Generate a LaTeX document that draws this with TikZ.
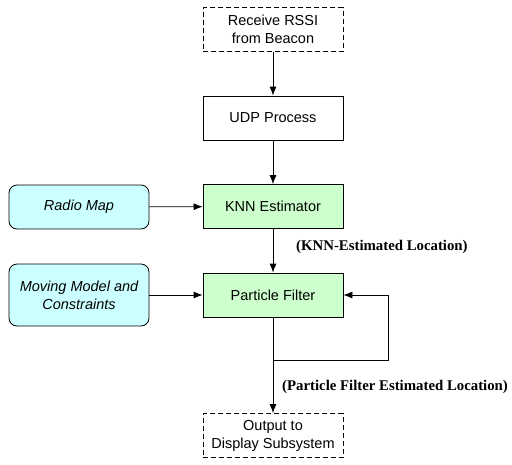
\documentclass[tikz,border=0pt]{standalone}
\usepackage{fontspec}
\setmainfont{Liberation Sans}
\newfontfamily\timesfont{Liberation Serif}
\usetikzlibrary{arrows.meta}
\definecolor{cyanfill}{HTML}{CCFFFF}
\definecolor{greenfill}{HTML}{CCFFCC}
\begin{document}
\begin{tikzpicture}[x=1pt,y=-1pt,
  box/.style={draw, line width=0.8pt, minimum width=140pt, minimum height=44pt, align=center, inner sep=2pt,
    font=\fontsize{14.5}{18}\selectfont},
  dashbox/.style={box, dash pattern=on 5pt off 3pt},
  greenbox/.style={box, fill=greenfill},
  cyanbox/.style={box, fill=cyanfill, rounded corners=8pt, font=\fontsize{14.5}{18}\selectfont\itshape},
  arr/.style={draw, line width=0.8pt, -{Latex[length=9pt,width=7pt]}},
  lab/.style={font=\fontsize{14.8}{18}\selectfont\timesfont\bfseries, anchor=west, inner sep=0pt}
]
\useasboundingbox (0,0) rectangle (512,464);
\node[dashbox] (recv) at (273,29.5) {Receive RSSI\\from Beacon};
\node[box] (udp) at (273,118) {UDP Process};
\node[greenbox] (knn) at (273,206.5) {KNN Estimator};
\node[cyanbox] (radio) at (79,207) {Radio Map};
\node[greenbox] (pf) at (273,295) {Particle Filter};
\node[cyanbox, minimum height=62pt] (move) at (79,295) {Moving Model and\\Constraints};
\node[dashbox] (out) at (273,435.5) {Output to\\Display Subsystem};
\coordinate (split) at (273,360);
\coordinate (corner1) at (388,360);
\coordinate (corner2) at (388,295);
\draw[arr] (recv) -- (udp);
\draw[arr] (udp) -- (knn);
\draw[arr] (radio) -- (knn);
\draw[arr] (knn) -- (pf);
\draw[arr] (move) -- (pf);
\draw[arr] (pf) -- (out);
\draw[arr] (split) -- (corner1) -- (corner2) -- (pf.east);
\node[lab] (l1) at (296,247) {(KNN-Estimated Location)};
\node[lab] (l2) at (282,387) {(Particle Filter Estimated Location)};
\end{tikzpicture}
\end{document}
